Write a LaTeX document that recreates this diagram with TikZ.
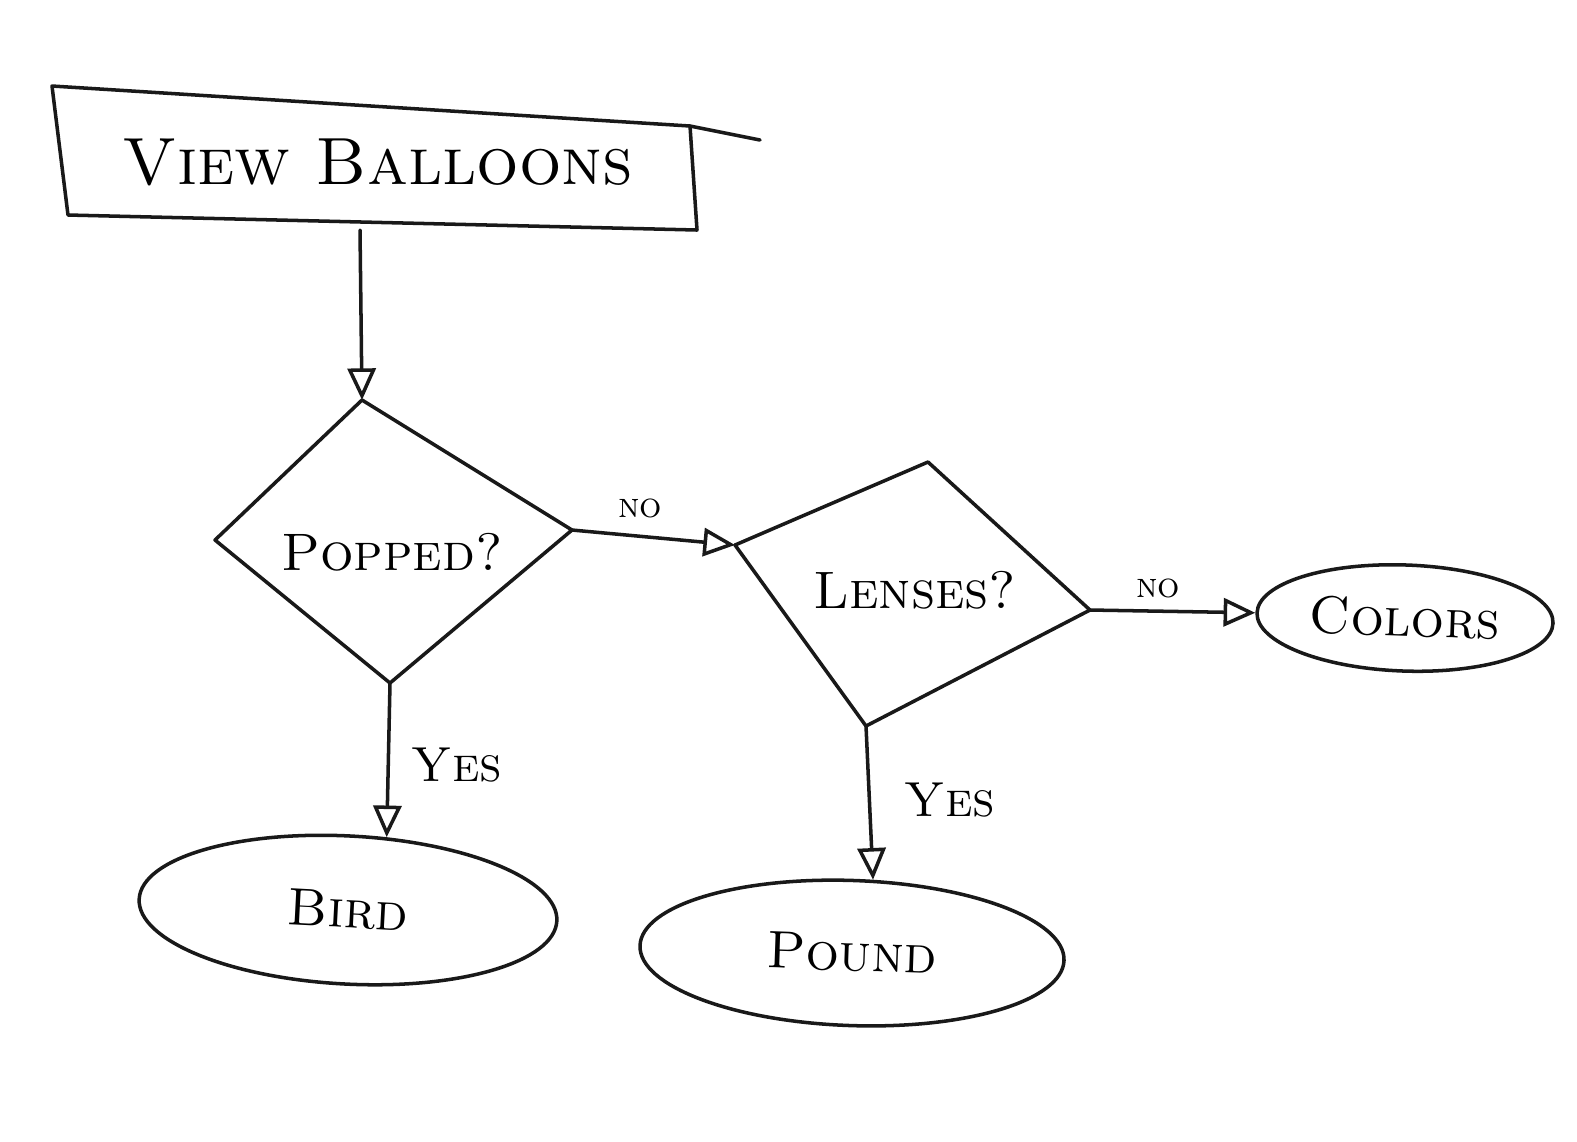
\documentclass[tikz,border=0pt]{standalone}
\usetikzlibrary{arrows.meta,shapes.geometric}
\begin{document}
\begin{tikzpicture}[x=0.01cm,y=-0.01cm,
  ink/.style={line width=1pt,draw=black!90,line join=round,line cap=round},
  conn/.style={ink,-{Triangle[open,length=9pt,width=8pt]}},
  bigtxt/.style={font=\fontsize{19}{23}\selectfont\scshape},
  midtxt/.style={font=\fontsize{15}{18}\selectfont\scshape},
  smalltxt/.style={font=\fontsize{10}{12}\selectfont\scshape},
  lbltxt/.style={font=\fontsize{14}{16}\selectfont\scshape},
  oval/.style={ink,ellipse,inner sep=0pt,font=\fontsize{15}{18}\selectfont\scshape}]
\useasboundingbox (0,0) rectangle (1577,1141);
% Box
\coordinate (b1) at (52,86);
\coordinate (b2) at (690,126);
\coordinate (b3) at (697,230);
\coordinate (b4) at (68,215);
\coordinate (bext) at (760,140);
\draw[ink] (b1) -- (b2) -- (b3) -- (b4) -- cycle;
\draw[ink] (b2) -- (bext);
\node[bigtxt] (view) at (378,162) {View Balloons};
\coordinate (viewb) at (360,230);
% Popped diamond
\coordinate (pt) at (362,400);
\coordinate (pl) at (215,540);
\coordinate (pr) at (572,530);
\coordinate (pb) at (390,683);
\draw[ink] (pt) -- (pr) -- (pb) -- (pl) -- cycle;
\node[midtxt] (popped) at (392,552) {Popped?};
% Lenses diamond
\coordinate (lt) at (928,462);
\coordinate (ll) at (735,545);
\coordinate (lr) at (1090,610);
\coordinate (lb) at (866,726);
\draw[ink] (lt) -- (lr) -- (lb) -- (ll) -- cycle;
\node[midtxt] (lenses) at (915,590) {Lenses?};
% Ovals
\node[oval,minimum width=4.18cm,minimum height=1.48cm,rotate=-3] (bird) at (348,910) {Bird};
\node[oval,minimum width=4.24cm,minimum height=1.45cm,rotate=-2] (pound) at (852,953) {Pound};
\node[oval,minimum width=2.96cm,minimum height=1.06cm,rotate=-2] (colors) at (1405,618) {Colors};
% Connectors
\draw[conn] (viewb) -- (pt);
\draw[conn] (pr) -- (ll);
\draw[conn] (pb) -- (bird.65);
\draw[conn] (lr) -- (colors.west);
\draw[conn] (lb) -- (pound.76);
% Labels
\node[smalltxt] (no1) at (640,508) {no};
\node[smalltxt] (no2) at (1158,588) {no};
\node[lbltxt] (yes1) at (457,765) {Yes};
\node[lbltxt] (yes2) at (950,800) {Yes};
\end{tikzpicture}
\end{document}
